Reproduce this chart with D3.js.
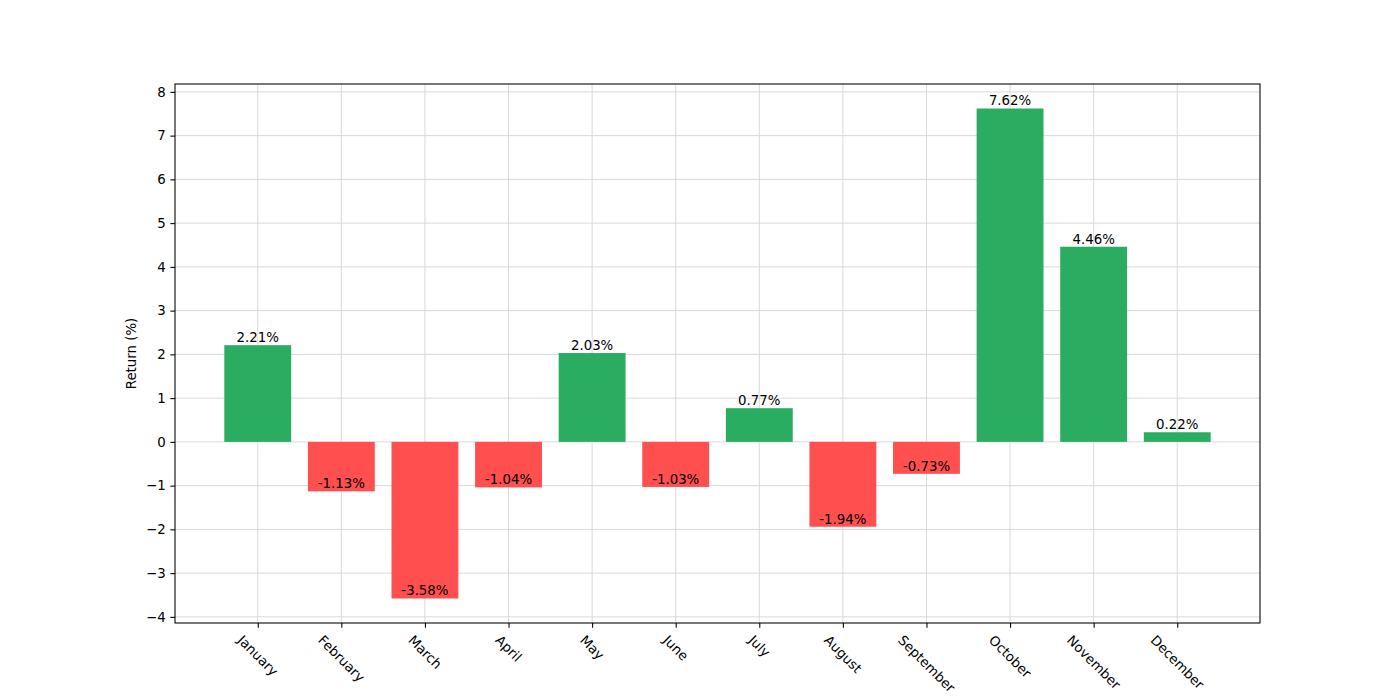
<!DOCTYPE html>
<html><head><meta charset="utf-8">
<script src="https://cdn.jsdelivr.net/npm/d3@7"></script>
<style>body{margin:0;background:#fff}svg{display:block}text{font-family:"DejaVu Sans",sans-serif;fill:#000}</style>
</head><body><svg id="c" width="1400" height="700"></svg>
<script>
const months = ["January","February","March","April","May","June","July","August","September","October","November","December"];
const returns = [2.21,-1.13,-3.58,-1.04,2.03,-1.03,0.77,-1.94,-0.73,7.62,4.46,0.22];
const yTicks = [-4,-3,-2,-1,0,1,2,3,4,5,6,7,8];
const yLabel = "Return (%)";

const svg = d3.select("#c");
const L=175,R=1260,T=84,B=623;
const fs = 13.33;
const minV = d3.min(returns), maxV = d3.max(returns);
const yr = maxV-minV;
const y = d3.scaleLinear().domain([minV-0.05*yr, maxV+0.05*yr]).range([B,T]);
const xr = (months.length-1+0.4)-(-0.4);
const x = d3.scaleLinear().domain([-0.4-0.05*xr, months.length-1+0.4+0.05*xr]).range([L,R]);
const bw = x(0.8)-x(0);

// grid
const g = svg.append("g");
g.selectAll(".gy").data(yTicks).join("line").attr("x1",L).attr("x2",R)
 .attr("y1",d=>y(d)).attr("y2",d=>y(d)).attr("stroke","#d9d9d9").attr("stroke-width",1);
g.selectAll(".gx").data(months).join("line").attr("y1",T).attr("y2",B)
 .attr("x1",(d,i)=>x(i)).attr("x2",(d,i)=>x(i)).attr("stroke","#d9d9d9").attr("stroke-width",1);

// bars
svg.append("g").selectAll("rect").data(returns).join("rect")
 .attr("x",(d,i)=>x(i)-bw/2).attr("width",bw)
 .attr("y",d=>y(Math.max(0,d))).attr("height",d=>Math.abs(y(d)-y(0)))
 .attr("fill",d=>d>=0?"#2aad60":"#ff4f4f");

// value labels
svg.append("g").selectAll("text").data(returns).join("text")
 .attr("x",(d,i)=>x(i)).attr("y",d=>y(d)-3.2)
 .attr("text-anchor","middle").attr("font-size",fs)
 .text(d=>d.toFixed(2)+"%");

// frame
svg.append("rect").attr("x",L).attr("y",T).attr("width",R-L).attr("height",B-T)
 .attr("fill","none").attr("stroke","#000").attr("stroke-width",1.07);

// y axis
const ya = svg.append("g").attr("transform",`translate(${L},0)`)
 .call(d3.axisLeft(y).tickValues(yTicks).tickSize(4.67).tickPadding(4.67).tickFormat(d=>String(d).replace("-","\u2212")));
ya.select(".domain").remove();
ya.selectAll("text").attr("font-size",fs).attr("font-family","DejaVu Sans").attr("fill","#000");
ya.selectAll("line").attr("stroke","#000").attr("stroke-width",1.07);

// x axis
const xa = svg.append("g").attr("transform",`translate(0,${B})`)
 .call(d3.axisBottom(x).tickValues(d3.range(months.length)).tickSize(4.67).tickFormat(""));
xa.select(".domain").remove();
xa.selectAll("line").attr("stroke","#000").attr("stroke-width",1.07);

const y0 = B+4.67+4.67;
const h = fs*1.164;
months.forEach((m,i)=>{
  const t = svg.append("text").attr("font-size",fs).attr("text-anchor","middle")
   .attr("dominant-baseline","central").text(m);
  const w = t.node().getComputedTextLength();
  const half = (w+h)/(2*Math.SQRT2);
  const cx = x(i), cy = y0+half;
  t.attr("x",cx).attr("y",cy).attr("transform",`rotate(45,${cx},${cy})`);
});

// y label
svg.append("text").attr("transform",`translate(136,${(T+B)/2}) rotate(-90)`)
 .attr("text-anchor","middle").attr("font-size",fs).text(yLabel);
</script></body></html>
